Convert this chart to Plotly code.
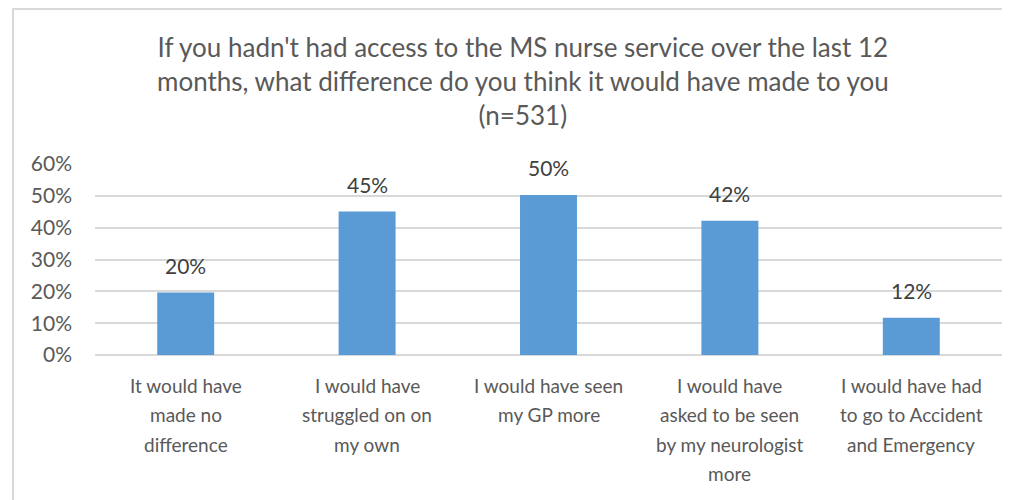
import plotly.graph_objects as go

categories = [
    "It would have<br>made no<br>difference",
    "I would have<br>struggled on on<br>my own",
    "I would have seen<br>my GP more",
    "I would have<br>asked to be seen<br>by my neurologist<br>more",
    "I would have had<br>to go to Accident<br>and Emergency",
]
values = [0.196, 0.451, 0.503, 0.422, 0.117]
labels = ["20%", "45%", "50%", "42%", "12%"]
yticks = [0, 0.1, 0.2, 0.3, 0.4, 0.5, 0.6]
yticklabels = ["0%", "10%", "20%", "30%", "40%", "50%", "60%"]
title_text = ("If you hadn't had access to the MS nurse service over the last 12<br>"
              "months, what difference do you think it would have made to you<br>(n=531)")

FONT = "Lato"
OFF = 8  # page body margin
W, H = 1010 - OFF, 500 - OFF
ML, MR, MT, MB = 95 - OFF, 8, 164 - OFF, 145
pw = W - ML - MR
ph = H - MT - MB


def px_x(p):
    return (p - OFF - ML) / pw


def px_y(p):
    return (H - MB - (p - OFF)) / ph


fig = go.Figure()
fig.add_trace(go.Bar(
    x=categories, y=values,
    marker=dict(color="#5B9BD5", line=dict(width=0)),
    width=0.314,
    hoverinfo="skip",
))

for c, v, t in zip(categories, values, labels):
    fig.add_annotation(x=c, y=v, text=t, showarrow=False, yanchor="middle",
                       yshift=27, font=dict(family=FONT, size=21, color="#404040"))

# category labels with Excel-like line spacing
for c in categories:
    for i, line in enumerate(c.split("<br>")):
        fig.add_annotation(x=c, y=0, yref="y", text=line, showarrow=False,
                           xanchor="center", yanchor="middle",
                           yshift=-(30 + 29.6 * i),
                           font=dict(family=FONT, size=19, color="#595959"))

fig.add_annotation(xref="paper", yref="paper", x=px_x(523), y=px_y(81),
                   xanchor="center", yanchor="middle", showarrow=False,
                   text=title_text, font=dict(family=FONT, size=26, color="#595959"))

fig.add_shape(type="rect", xref="paper", yref="paper",
              x0=px_x(13), x1=px_x(1030),
              y0=px_y(520), y1=px_y(9),
              line=dict(color="#d9d9d9", width=2), layer="below")

fig.update_layout(
    width=W, height=H,
    margin=dict(l=ML, r=MR, t=MT, b=MB, autoexpand=False),
    paper_bgcolor="white", plot_bgcolor="white",
    font=dict(family=FONT, color="#595959"),
    showlegend=False,
    xaxis=dict(showgrid=False, showline=False, ticks="", automargin=False,
               showticklabels=False),
    yaxis=dict(range=[0, 0.6], tickvals=yticks, ticktext=yticklabels,
               showgrid=True, gridcolor="#d9d9d9", gridwidth=1.5,
               zeroline=True, zerolinecolor="#d9d9d9", zerolinewidth=1.5,
               showline=False, ticks="", ticklabelstandoff=22, automargin=False,
               tickfont=dict(family=FONT, size=21, color="#595959")),
)

fig.write_html("out.html")
